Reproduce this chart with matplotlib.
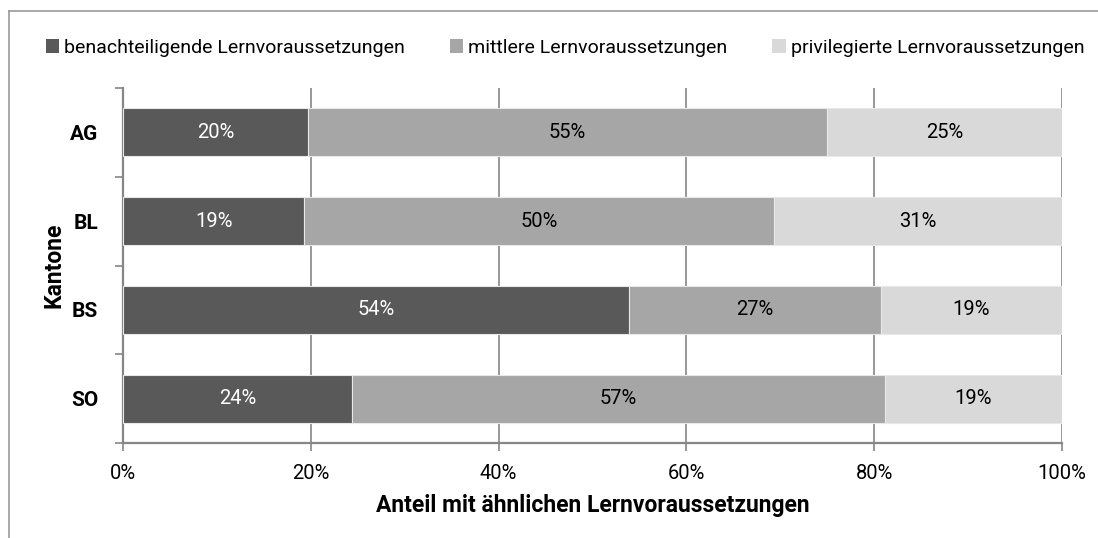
import matplotlib
matplotlib.use("Agg")
import matplotlib.pyplot as plt
from matplotlib.lines import Line2D
from matplotlib.patches import Patch

plt.rcParams['font.family'] = ['Roboto', 'DejaVu Sans']

categories = ["AG", "BL", "BS", "SO"]
series_names = ["benachteiligende Lernvoraussetzungen",
                "mittlere Lernvoraussetzungen",
                "privilegierte Lernvoraussetzungen"]
benachteiligt = [19.7, 19.3, 53.9, 24.4]
mittel = [55.3, 50.0, 26.8, 56.7]
privilegiert = [25.0, 30.7, 19.3, 18.9]
x_ticks = [0, 20, 40, 60, 80, 100]
x_ticklabels = ["0%", "20%", "40%", "60%", "80%", "100%"]

colors = ["#595959", "#A6A6A6", "#D9D9D9"]
text_colors = ["white", "#000000", "#000000"]

fig = plt.figure(figsize=(10.98, 5.38), dpi=100)
ax = fig.add_axes([123/1098, 1-443/538, (1062-123)/1098, (443-88)/538])

ypos = list(range(len(categories)))
left = [0.0]*len(categories)
for vals, col, tc, name in zip([benachteiligt, mittel, privilegiert], colors, text_colors, series_names):
    bars = ax.barh(ypos, vals, left=left, height=0.54, color=col, edgecolor="#e8e8e8",
                   linewidth=0.8, label=name, zorder=3)
    for b, v, l in zip(bars, vals, left):
        ax.text(l + v/2, b.get_y() + b.get_height()/2, f"{round(v):d}%", ha="center", va="center",
                color=tc, fontsize=14.5, zorder=4)
    left = [a+b for a, b in zip(left, vals)]

ax.set_xlim(0, 100)
ax.set_ylim(len(categories)-0.5, -0.5)
ax.set_xticks(x_ticks)
ax.set_xticklabels(x_ticklabels, fontsize=14.5)
ax.set_yticks(ypos)
ax.set_yticklabels(categories, fontsize=15, fontweight="bold")
ax.set_yticks([i-0.5 for i in range(len(categories)+1)], minor=True)
ax.tick_params(axis="y", which="major", length=0, pad=18)
ax.tick_params(axis="y", which="minor", length=6, color="#868686", width=1.2, direction="out")
ax.tick_params(axis="x", length=6, color="#868686", width=1.2, direction="out", pad=9)
ax.grid(axis="x", color="#868686", linewidth=1.2, zorder=0)
for s in ["top", "right"]:
    ax.spines[s].set_visible(False)
for s in ["left", "bottom"]:
    ax.spines[s].set_color("#868686")
    ax.spines[s].set_linewidth(1.6)

ax.set_xlabel("Anteil mit ähnlichen Lernvoraussetzungen", fontsize=16.5, fontweight="bold", labelpad=8)
ax.set_ylabel("Kantone", fontsize=16.5, fontweight="bold", labelpad=3)

handles = [Patch(facecolor=c, edgecolor="none") for c in colors]
fig.legend(handles, series_names, loc="center", bbox_to_anchor=(565/1098, 1-48/538), ncol=3,
           frameon=False, fontsize=14, handlelength=0.7, handleheight=0.7,
           handletextpad=0.25, columnspacing=2.3)

fig.add_artist(Line2D([9/1098, 1], [1-11/538, 1-11/538], color="#999999", linewidth=1.2))
fig.add_artist(Line2D([9/1098, 9/1098], [0, 1-11/538], color="#999999", linewidth=1.2))

fig.savefig("out.png", dpi=100)
